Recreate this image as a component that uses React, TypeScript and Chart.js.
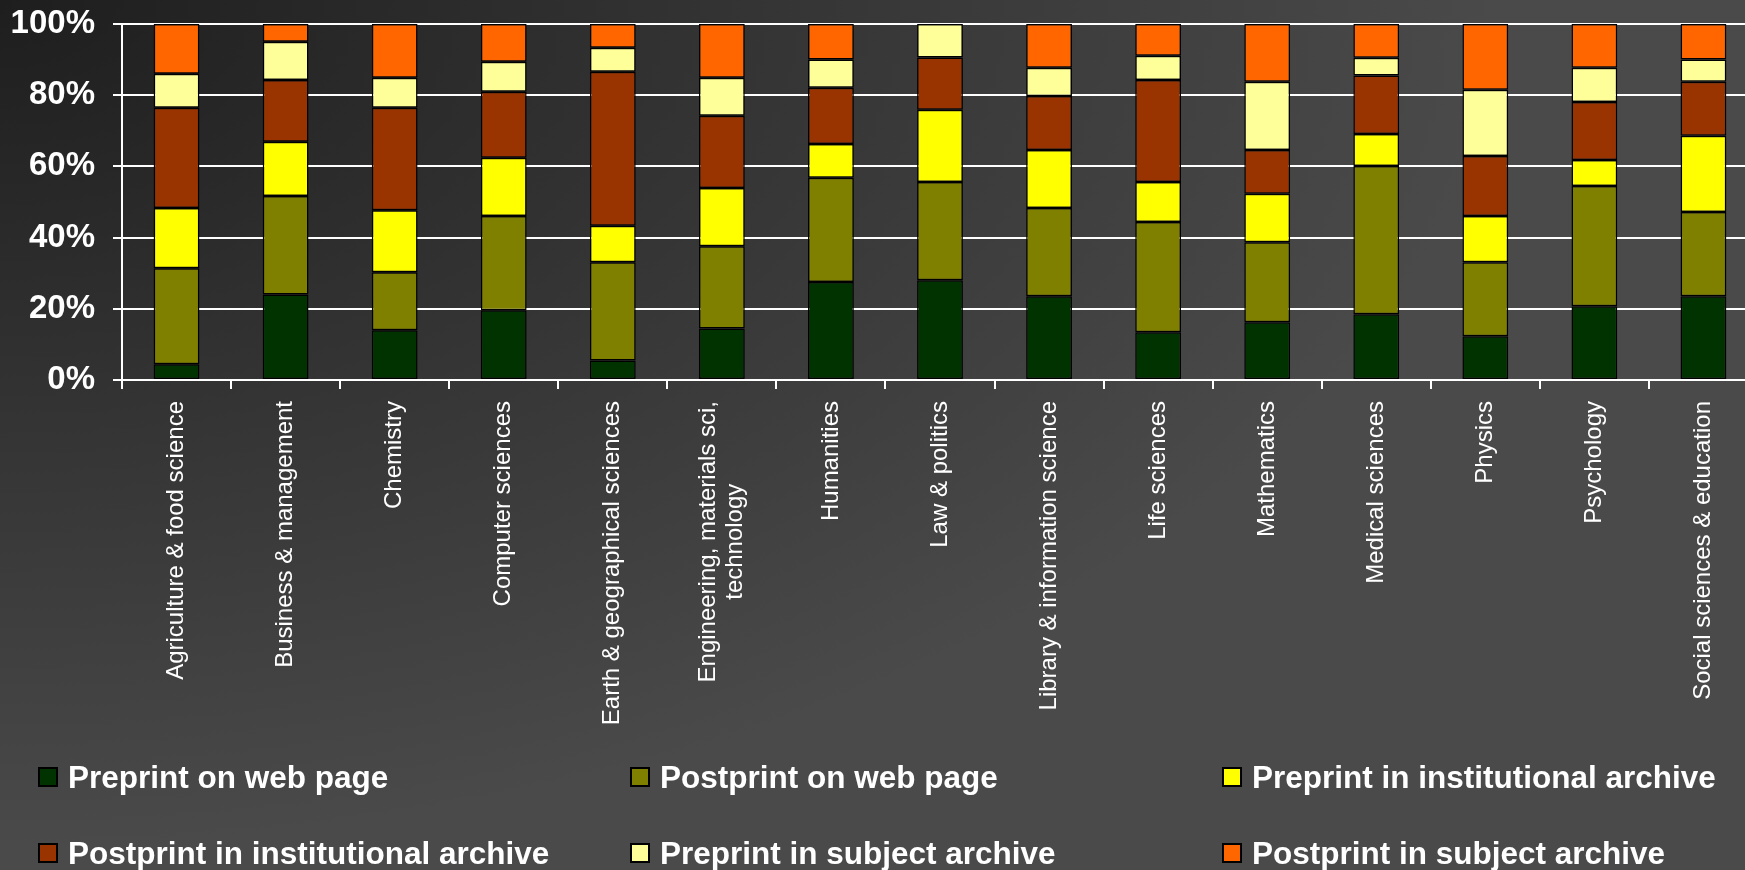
import React, { useEffect, useRef } from 'react';
import { Chart, registerables } from 'chart.js';

Chart.register(...registerables);

const categories: (string | string[])[] = [
  'Agriculture & food science',
  'Business & management',
  'Chemistry',
  'Computer sciences',
  'Earth & geographical sciences',
  ['Engineering, materials sci,', 'technology'],
  'Humanities',
  'Law & politics',
  'Library & information science',
  'Life sciences',
  'Mathematics',
  'Medical sciences',
  'Physics',
  'Psychology',
  'Social sciences & education',
];

const seriesNames = [
  'Preprint on web page',
  'Postprint on web page',
  'Preprint in institutional archive',
  'Postprint in institutional archive',
  'Preprint in subject archive',
  'Postprint in subject archive',
];

const preprintWeb = [4.4, 24.0, 14.0, 19.6, 5.5, 14.5, 27.5, 28.0, 23.5, 13.4, 16.2, 18.5, 12.3, 20.7, 23.5];
const postprintWeb = [27.0, 27.7, 16.3, 26.5, 27.6, 23.1, 29.3, 27.6, 24.8, 31.0, 22.5, 41.6, 20.8, 33.8, 23.7];
const preprintInst = [16.9, 15.2, 17.4, 16.3, 10.2, 16.3, 9.5, 20.3, 16.3, 11.2, 13.6, 9.0, 13.0, 7.3, 21.4];
const postprintInst = [28.2, 17.4, 28.8, 18.6, 43.3, 20.3, 15.8, 14.7, 15.2, 28.7, 12.3, 16.4, 16.8, 16.3, 15.2];
const preprintSubj = [9.5, 10.7, 8.4, 8.4, 6.7, 10.7, 7.9, 9.4, 7.9, 6.8, 19.2, 5.0, 18.6, 9.6, 6.2];
const postprintSubj = [14.0, 5.0, 15.1, 10.6, 6.7, 15.1, 10.0, 0, 12.3, 8.9, 16.2, 9.5, 18.5, 12.3, 10.0];

const yTicks = [0, 20, 40, 60, 80, 100];

const seriesColors = ['#003300', '#808000', '#FFFF00', '#993300', '#FFFF99', '#FF6600'];

const FONT = '"Liberation Sans", Arial, Helvetica, sans-serif';

const xLabelPlugin = {
  id: 'xLabels',
  afterDraw(chart: any) {
    const xs = chart.scales.x;
    const ctx = chart.ctx;
    const yTop = 401;
    const lineH = 27;
    ctx.save();
    ctx.fillStyle = '#ffffff';
    ctx.font = `24px ${FONT}`;
    ctx.textBaseline = 'middle';
    categories.forEach((lab, i) => {
      const x = xs.getPixelForValue(i);
      const lines = Array.isArray(lab) ? lab : [lab];
      ctx.save();
      ctx.translate(x, yTop);
      ctx.rotate(-Math.PI / 2);
      if (lines.length === 1) {
        ctx.textAlign = 'right';
        ctx.fillText(lines[0], 0, 0);
      } else {
        const w = Math.max(...lines.map((l) => ctx.measureText(l).width));
        ctx.textAlign = 'center';
        lines.forEach((l, j) => {
          ctx.fillText(l, -w / 2, (j - (lines.length - 1) / 2) * lineH);
        });
      }
      ctx.restore();
    });
    ctx.restore();
  },
};

export default function App() {
  const ref = useRef<HTMLCanvasElement | null>(null);

  useEffect(() => {
    const seriesData = [preprintWeb, postprintWeb, preprintInst, postprintInst, preprintSubj, postprintSubj];
    const chart = new Chart(ref.current as HTMLCanvasElement, {
      type: 'bar',
      data: {
        labels: categories.map((c) => (Array.isArray(c) ? c.join(' ') : c)),
        datasets: seriesNames.map((name, k) => ({
          label: name,
          data: seriesData[k],
          backgroundColor: seriesColors[k],
          borderColor: '#000000',
          borderWidth: 1.5,
          borderSkipped: false,
          categoryPercentage: 1,
          barPercentage: 0.42,
        })),
      },
      options: {
        animation: false,
        responsive: false,
        devicePixelRatio: 1,
        layout: { padding: { top: 24, right: 7, left: 0, bottom: 0 } },
        plugins: { legend: { display: false }, tooltip: { enabled: false } },
        scales: {
          x: {
            stacked: true,
            offset: true,
            grid: {
              display: true,
              drawOnChartArea: false,
              drawTicks: true,
              tickLength: 9,
              color: '#ffffff',
              lineWidth: 2,
              offset: true,
            },
            border: { color: '#ffffff', width: 2 },
            ticks: { display: false },
            afterFit: (s: any) => {
              s.height = 380;
              s.paddingLeft = 0;
              s.paddingRight = 0;
              s.paddingTop = 0;
              s.paddingBottom = 0;
            },
          },
          y: {
            stacked: true,
            min: 0,
            max: 100,
            grid: { color: '#ffffff', lineWidth: 2, tickLength: 9, drawTicks: true },
            border: { color: '#ffffff', width: 2 },
            ticks: {
              color: '#ffffff',
              padding: 18,
              font: { family: FONT, size: 33, weight: 'bold' },
              callback: (v: any) => `${v}%`,
            },
            afterBuildTicks: (s: any) => {
              s.ticks = yTicks.map((v) => ({ value: v }));
            },
            afterFit: (s: any) => {
              s.width = 122;
              s.paddingTop = 0;
              s.paddingBottom = 0;
              s.paddingLeft = 0;
              s.paddingRight = 0;
            },
          },
        },
      } as any,
      plugins: [xLabelPlugin],
    });
    return () => chart.destroy();
  }, []);

  return (
    <div
      style={{
        position: 'fixed',
        left: 0,
        top: 0,
        width: 1745,
        height: 870,
        overflow: 'hidden',
        background: 'radial-gradient(ellipse 1500px 850px at 0px 0px, #1e1e1e 0%, #4a4a4a 100%)',
        fontFamily: FONT,
      }}
    >
      <canvas
        ref={ref}
        width={1765}
        height={760}
        style={{ position: 'absolute', left: 0, top: 0, width: 1765, height: 760 }}
      />
      {seriesNames.map((name, i) => {
        const col = i % 3;
        const row = Math.floor(i / 3);
        const left = 38 + col * 592;
        const cy = 777 + row * 76;
        return (
          <div
            key={name}
            style={{
              position: 'absolute',
              left,
              top: cy - 20,
              height: 40,
              display: 'flex',
              alignItems: 'center',
              whiteSpace: 'nowrap',
            }}
          >
            <span
              style={{
                display: 'inline-block',
                width: 20,
                height: 20,
                boxSizing: 'border-box',
                border: '2px solid #000',
                background: seriesColors[i],
              }}
            />
            <span
              style={{
                marginLeft: 10,
                color: '#ffffff',
                fontWeight: 'bold',
                fontSize: 31.5,
              }}
            >
              {name}
            </span>
          </div>
        );
      })}
    </div>
  );
}
